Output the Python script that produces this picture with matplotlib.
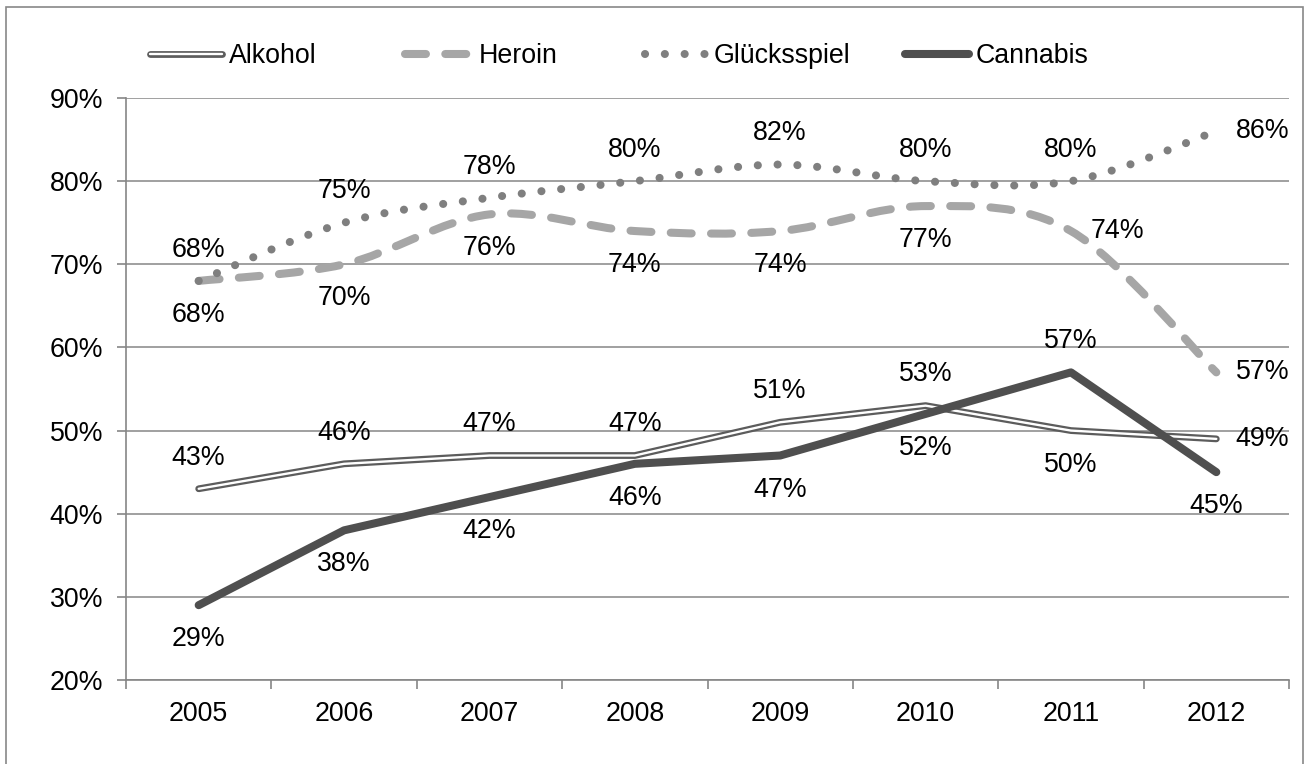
import numpy as np
import matplotlib
matplotlib.use('Agg')
import matplotlib.pyplot as plt
from matplotlib.path import Path
from matplotlib.patches import PathPatch, Rectangle
from matplotlib.lines import Line2D
import matplotlib.patheffects as pe

plt.rcParams['font.family'] = ['Liberation Sans', 'DejaVu Sans']

years = ['2005', '2006', '2007', '2008', '2009', '2010', '2011', '2012']
alkohol = [43, 46, 47, 47, 51, 53, 50, 49]
heroin = [68, 70, 76, 74, 74, 77, 74, 57]
gluecksspiel = [68, 75, 78, 80, 82, 80, 80, 86]
cannabis = [29, 38, 42, 46, 47, 52, 57, 45]

# where each value label sits relative to its point
alkohol_pos = ['above', 'above', 'above', 'above', 'above', 'above', 'below', 'right']
heroin_pos = ['below', 'below', 'below', 'below', 'below', 'below', 'right', 'right']
gluecks_pos = ['above', 'above', 'above', 'above', 'above', 'above', 'above', 'right']
cannabis_pos = ['below', 'below', 'below', 'below', 'below', 'below', 'above', 'below']

FS = 19.3
grid_col = '#868686'


def smooth_path(xs, ys):
    # cubic bezier through every point, tangents from the neighbours
    pts = np.column_stack([xs, ys]).astype(float)
    n = len(pts)
    verts = [pts[0]]
    codes = [Path.MOVETO]
    for i in range(n - 1):
        prev = pts[i - 1] if i > 0 else pts[i]
        nxt = pts[i + 2] if i + 2 < n else pts[i + 1]
        c1 = pts[i] + (pts[i + 1] - prev) / 6.0
        c2 = pts[i + 1] - (nxt - pts[i]) / 6.0
        verts += [c1, c2, pts[i + 1]]
        codes += [Path.CURVE4] * 3
    return Path(verts, codes)


def put_labels(ax, xs, vals, where):
    for x, v, w in zip(xs, vals, where):
        if w == 'above':
            ax.annotate(f'{v}%', (x, v), xytext=(0, 22.5), textcoords='offset points',
                        ha='center', va='center', fontsize=FS)
        elif w == 'below':
            ax.annotate(f'{v}%', (x, v), xytext=(0, -24.5), textcoords='offset points',
                        ha='center', va='center', fontsize=FS)
        else:
            ax.annotate(f'{v}%', (x, v), xytext=(14, 0), textcoords='offset points',
                        ha='left', va='center', fontsize=FS)


fig = plt.figure(figsize=(13.05, 7.64), dpi=100)
ax = fig.add_axes([126 / 1305, 1 - 680 / 764, (1289 - 126) / 1305, (680 - 98) / 764])

x = np.arange(len(years))

# Alkohol: white line with grey outline
alk_style = dict(color='white', lw=1.7, solid_capstyle='round', solid_joinstyle='round',
                 path_effects=[pe.Stroke(linewidth=4.9, foreground='#5c5c5c'), pe.Normal()])
ax.plot(x, alkohol, zorder=3, **alk_style)

# Heroin and Gluecksspiel are drawn as smoothed curves
her_style = dict(color='#a6a6a6', lw=5.8, linestyle=(0, (2.6, 2.4)))
p = PathPatch(smooth_path(x, heroin), fill=False, edgecolor=her_style['color'],
              lw=her_style['lw'], linestyle=her_style['linestyle'],
              capstyle='round', joinstyle='round', zorder=3)
ax.add_patch(p)

gl_style = dict(color='#7f7f7f', lw=5.8, linestyle=(0, (0.01, 2.45)))
p = PathPatch(smooth_path(x, gluecksspiel), fill=False, edgecolor=gl_style['color'],
              lw=gl_style['lw'], linestyle=gl_style['linestyle'],
              capstyle='round', joinstyle='round', zorder=3)
ax.add_patch(p)

can_style = dict(color='#4f4f4f', lw=5.8, solid_capstyle='round', solid_joinstyle='round')
ax.plot(x, cannabis, zorder=4, **can_style)

put_labels(ax, x, alkohol, alkohol_pos)
put_labels(ax, x, heroin, heroin_pos)
put_labels(ax, x, gluecksspiel, gluecks_pos)
put_labels(ax, x, cannabis, cannabis_pos)

ax.set_xlim(-0.5, len(years) - 0.5)
ax.set_ylim(20, 90)
ax.set_yticks(np.arange(20, 91, 10))
ax.set_yticklabels([f'{v}%' for v in range(20, 91, 10)])
ax.set_xticks(np.arange(-0.5, len(years), 1.0))
ax.set_xticklabels([])
ax.set_xticks(x, minor=True)
ax.set_xticklabels(years, minor=True)
ax.tick_params(axis='x', which='major', direction='out', length=6.5, width=1.2, color=grid_col)
ax.tick_params(axis='x', which='minor', length=0, pad=15, labelsize=FS)
ax.tick_params(axis='y', direction='out', length=6.5, width=1.2, color=grid_col,
               pad=10, labelsize=FS)
ax.grid(axis='y', color=grid_col, lw=1.1)
ax.set_axisbelow(True)
for s in ['top', 'right']:
    ax.spines[s].set_visible(False)
for s in ['left', 'bottom']:
    ax.spines[s].set_color(grid_col)
    ax.spines[s].set_linewidth(1.2)

# legend entries sit at fixed slots along the top
handles = [
    Line2D([], [], **alk_style),
    Line2D([], [], color=her_style['color'], lw=her_style['lw'],
           linestyle=her_style['linestyle'], dash_capstyle='round'),
    Line2D([], [], color=gl_style['color'], lw=gl_style['lw'],
           linestyle=gl_style['linestyle'], dash_capstyle='round'),
    Line2D([], [], **can_style),
]
names = ['Alkohol', 'Heroin', 'Glücksspiel', 'Cannabis']
slots = [150, 405, 645, 905]
hlen = [2.7, 2.5, 2.3, 2.4]
for h, name, sx, hl in zip(handles, names, slots, hlen):
    leg = fig.legend([h], [name], loc='center left',
                     bbox_to_anchor=(sx / 1305, 1 - 56 / 764),
                     frameon=False, fontsize=FS, handlelength=hl, handletextpad=0.25,
                     borderpad=0, borderaxespad=0)

# outer chart border (open at the bottom edge)
fig.patches.append(Rectangle((6 / 1305, -0.05), (1303 - 6) / 1305, 1.05 - 7 / 764,
                             transform=fig.transFigure, fill=False,
                             edgecolor='#888888', lw=1.2))

fig.savefig('out.png', dpi=100)
